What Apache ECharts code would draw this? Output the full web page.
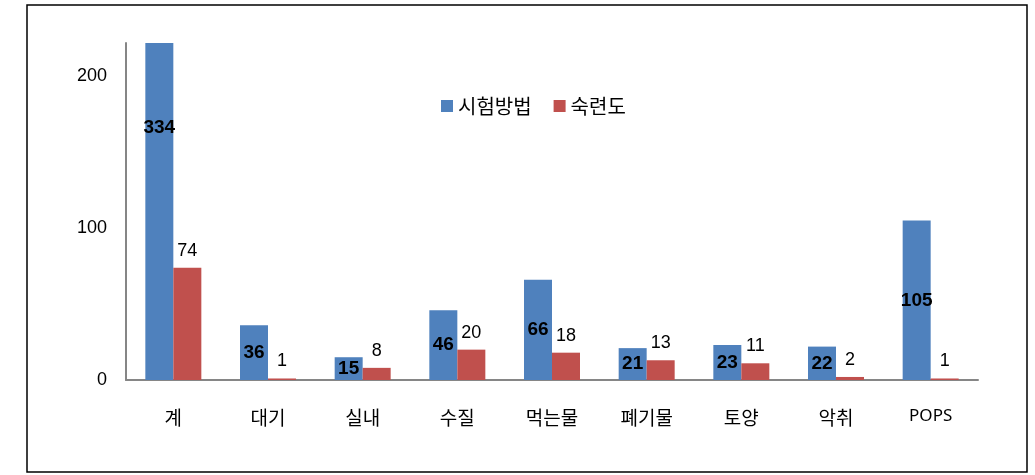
<!DOCTYPE html>
<html>
<head>
<meta charset="utf-8">
<script src="https://cdn.jsdelivr.net/npm/echarts@6/dist/echarts.min.js"></script>
<style>html,body{margin:0;padding:0;background:#fff}#c{width:1035px;height:475px}</style>
</head>
<body>
<div id="c"></div>
<script>
const categories = ['계', '대기', '실내', '수질', '먹는물', '폐기물', '토양', '악취', 'POPS'];
const methodValues = [334, 36, 15, 46, 66, 21, 23, 22, 105];
const skillValues = [74, 1, 8, 20, 18, 13, 11, 2, 1];
const yTicks = [0, 100, 200];
const seriesNames = ['시험방법', '숙련도'];

const FONT = '"Noto Sans CJK KR", "Noto Sans", sans-serif';
const NUMFONT = '"Liberation Sans", sans-serif';
const yMax = 222;

const chart = echarts.init(document.getElementById('c'), null, {renderer: 'canvas'});
chart.setOption({
  animation: false,
  backgroundColor: '#fff',
  graphic: [{
    type: 'rect', shape: {x: 27, y: 5, width: 1000, height: 467},
    style: {fill: 'none', stroke: '#000', lineWidth: 1.5}, silent: true, z: -1
  }],
  legend: {
    left: 436, top: 91, itemWidth: 12, itemHeight: 12, itemGap: 22, icon: 'rect',
    textStyle: {fontFamily: FONT, fontSize: 20, color: '#000'},
    data: seriesNames
  },
  grid: {left: 126, right: 57, top: 43, bottom: 95, containLabel: false},
  xAxis: {
    type: 'category', data: categories,
    axisLine: {lineStyle: {color: '#868686', width: 2}},
    axisTick: {show: false},
    axisLabel: {
      interval: 0,
      fontFamily: FONT, fontSize: 19, color: '#000', margin: 28,
      formatter: v => (/^[A-Za-z]+$/.test(v) ? '{l|' + v + '}' : v),
      rich: {l: {fontFamily: '"Noto Sans", sans-serif', fontSize: 17, color: '#000', padding: [0, 0, 12, 0]}}
    }
  },
  yAxis: {
    type: 'value', min: yTicks[0], max: yMax, interval: yTicks[1] - yTicks[0],
    axisLine: {show: true, lineStyle: {color: '#868686', width: 2}},
    axisTick: {show: false},
    splitLine: {show: false},
    axisLabel: {
      fontFamily: NUMFONT, fontSize: 18, color: '#000', margin: 19,
      showMaxLabel: false,
      formatter: v => (yTicks.indexOf(v) >= 0 ? String(v) : '')
    }
  },
  series: [{
    name: seriesNames[0], type: 'bar', barWidth: 28, barGap: '0%',
    itemStyle: {color: '#4F81BD'},
    label: {show: true, position: 'inside', color: '#000', fontWeight: 'bold',
            fontFamily: NUMFONT, fontSize: 19},
    data: methodValues.map((v, i) => i === 0
      ? {value: v, label: {offset: [0, -84]}}
      : v)
  }, {
    name: seriesNames[1], type: 'bar', barWidth: 28,
    itemStyle: {color: '#C0504D'},
    label: {show: true, position: 'top', distance: 8, color: '#000',
            fontFamily: NUMFONT, fontSize: 18},
    data: skillValues
  }]
});
</script>
</body>
</html>
